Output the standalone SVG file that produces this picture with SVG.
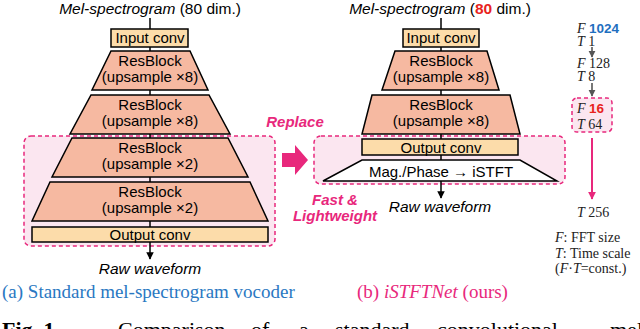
<svg xmlns="http://www.w3.org/2000/svg" width="640" height="329" viewBox="0 0 640 329">
<defs>
<style>
.sans{font-family:"Liberation Sans",Arial,sans-serif}
.serif{font-family:"Liberation Serif","Times New Roman",serif}
.lbl{font-family:"Liberation Sans",Arial,sans-serif;font-size:15px;fill:#000;text-anchor:middle}
.conv{fill:#fcdcaa;stroke:#000;stroke-width:1.5}
.res{fill:#f6b9a1;stroke:#000;stroke-width:1.5}
.mag{fill:#fff;stroke:#000;stroke-width:1.5}
.zone{fill:#fbe6f0;stroke:#e8287c;stroke-width:1.5;stroke-dasharray:4 3}
.wire{stroke:#000;stroke-width:1.5;fill:none}
.pinkb{font-family:"Liberation Sans",Arial,sans-serif;font-weight:bold;font-style:italic;font-size:15px;fill:#e8287c;text-anchor:middle}
.ft{font-family:"Liberation Serif","Times New Roman",serif;font-size:14px;fill:#222}
.cap{font-family:"Liberation Serif","Times New Roman",serif;font-size:22px;fill:#000}
</style>
<marker id="ah" viewBox="0 0 10 10" refX="9" refY="5" markerWidth="5" markerHeight="5" orient="auto" markerUnits="strokeWidth"><path d="M0,0 L10,5 L0,10 z" fill="#000"/></marker>
<marker id="ahg" viewBox="0 0 10 10" refX="9" refY="5" markerWidth="4.5" markerHeight="5" orient="auto" markerUnits="strokeWidth"><path d="M0,0 L10,5 L0,10 z" fill="#555"/></marker>
<marker id="ahp" viewBox="0 0 10 10" refX="9" refY="5" markerWidth="4" markerHeight="4" orient="auto" markerUnits="strokeWidth"><path d="M0,0 L10,5 L0,10 z" fill="#e8287c"/></marker>
</defs>

<!-- background zones -->
<g id="zone-left"><rect class="zone" x="24" y="136" width="251" height="110" rx="7"/></g>
<g id="zone-right"><rect class="zone" x="314" y="136" width="251" height="48" rx="7"/></g>
<g id="zone-f16"><rect class="zone" x="572" y="98" width="40" height="34" rx="5"/></g>

<!-- connectors -->
<g id="connectors">
<line class="wire" x1="150" y1="18" x2="150" y2="29"/>
<line class="wire" x1="150" y1="47" x2="150" y2="51"/>
<line class="wire" x1="150" y1="90" x2="150" y2="95"/>
<line class="wire" x1="150" y1="134" x2="150" y2="138"/>
<line class="wire" x1="150" y1="177" x2="150" y2="182"/>
<line class="wire" x1="150" y1="221" x2="150" y2="227"/>
<line class="wire" x1="150" y1="242" x2="150" y2="259" marker-end="url(#ah)"/>
<line class="wire" x1="441" y1="18" x2="441" y2="29"/>
<line class="wire" x1="441" y1="47" x2="441" y2="51"/>
<line class="wire" x1="441" y1="90" x2="441" y2="95"/>
<line class="wire" x1="441" y1="134" x2="441" y2="139"/>
<line class="wire" x1="441" y1="155" x2="441" y2="160"/>
<line class="wire" x1="441" y1="181" x2="441" y2="198" marker-end="url(#ah)"/>
<line x1="592" y1="47" x2="592" y2="57" stroke="#555" stroke-width="1.6" marker-end="url(#ahg)"/>
<line x1="592" y1="83" x2="592" y2="96" stroke="#555" stroke-width="1.6" marker-end="url(#ahg)"/>
<line x1="592" y1="138" x2="592" y2="199" stroke="#e8287c" stroke-width="2" marker-end="url(#ahp)"/>
<path id="replace-arrow" d="M282,153 L295,153 L295,145 L308,160 L295,175 L295,167 L282,167 z" fill="#e8287c"/>
</g>

<!-- left: standard vocoder -->
<g id="left-title"><text x="150" y="13.5" class="sans" font-size="15.5" text-anchor="middle"><tspan font-style="italic">Mel-spectrogram</tspan> (80 dim.)</text></g>
<g id="left-input"><rect class="conv" x="111" y="29" width="77" height="18"/><text class="lbl" x="150" y="43">Input conv</text></g>
<g id="left-rb1"><polygon class="res" points="111,51 190,51 208,90 92,90"/><text class="lbl" x="150" y="66">ResBlock</text><text class="lbl" x="150" y="81.5">(upsample ×8)</text></g>
<g id="left-rb2"><polygon class="res" points="91,95 209,95 230,134 70,134"/><text class="lbl" x="150" y="110">ResBlock</text><text class="lbl" x="150" y="125.5">(upsample ×8)</text></g>
<g id="left-rb3"><polygon class="res" points="72,138 228,138 248,177 52,177"/><text class="lbl" x="150" y="153">ResBlock</text><text class="lbl" x="150" y="168.5">(upsample ×2)</text></g>
<g id="left-rb4"><polygon class="res" points="50,182 250,182 268,221 32,221"/><text class="lbl" x="150" y="197">ResBlock</text><text class="lbl" x="150" y="212.5">(upsample ×2)</text></g>
<g id="left-output"><rect class="conv" x="32" y="227" width="236" height="15"/><text class="lbl" x="150" y="239.5">Output conv</text></g>
<g id="left-raw"><text class="sans" x="150" y="274" font-size="15.5" font-style="italic" text-anchor="middle">Raw waveform</text></g>
<g id="caption-a"><text class="serif" x="2" y="298" font-size="19" fill="#2a78c2">(a) Standard mel-spectrogram vocoder</text></g>

<!-- replace -->
<g id="replace-label"><text class="pinkb" x="295" y="127">Replace</text></g>
<g id="fast-label"><text class="pinkb" x="335" y="205">Fast &amp;</text><text class="pinkb" x="335" y="221">Lightweight</text></g>

<!-- right: iSTFTNet -->
<g id="right-title"><text x="440" y="13.5" class="sans" font-size="15.5" text-anchor="middle"><tspan font-style="italic">Mel-spectrogram</tspan> (<tspan font-weight="bold" fill="#e8231e">80</tspan> dim.)</text></g>
<g id="right-input"><rect class="conv" x="403" y="29" width="76" height="18"/><text class="lbl" x="441" y="43">Input conv</text></g>
<g id="right-rb1"><polygon class="res" points="395,51 487,51 499,90 382,90"/><text class="lbl" x="441" y="66">ResBlock</text><text class="lbl" x="441" y="81.5">(upsample ×8)</text></g>
<g id="right-rb2"><polygon class="res" points="372,95 510,95 520,134 362,134"/><text class="lbl" x="441" y="110">ResBlock</text><text class="lbl" x="441" y="125.5">(upsample ×8)</text></g>
<g id="right-output"><rect class="conv" x="362" y="139" width="156" height="16"/><text class="lbl" x="441" y="152.5">Output conv</text></g>
<g id="right-istft"><polygon class="mag" points="362,160 520,160 557,181 323,181"/><text class="lbl" x="441" y="177">Mag./Phase → iSTFT</text></g>
<g id="right-raw"><text class="sans" x="440" y="212" font-size="15.5" font-style="italic" text-anchor="middle">Raw waveform</text></g>
<g id="caption-b"><text class="serif" x="357" y="298" font-size="19" fill="#e8287c">(b) <tspan font-style="italic">iSTFTNet</tspan> (ours)</text></g>

<!-- right column: F / T scale -->
<g id="scale-1"><text class="ft" x="577" y="33"><tspan font-style="italic">F</tspan> <tspan class="sans" font-weight="bold" font-size="13.5" fill="#1f6fbf">1024</tspan></text><text class="ft" x="577" y="45.5"><tspan font-style="italic">T</tspan> 1</text></g>
<g id="scale-2"><text class="ft" x="577" y="68"><tspan font-style="italic">F</tspan> 128</text><text class="ft" x="577" y="80.5"><tspan font-style="italic">T</tspan> 8</text></g>
<g id="scale-3"><text class="ft" x="577" y="113"><tspan font-style="italic">F</tspan> <tspan class="sans" font-weight="bold" font-size="13.5" fill="#e8231e">16</tspan></text><text class="ft" x="577" y="128.5"><tspan font-style="italic">T</tspan> 64</text></g>
<g id="scale-4"><text class="ft" x="577" y="217"><tspan font-style="italic">T</tspan> 256</text></g>
<g id="legend"><text class="ft" x="555" y="242"><tspan font-style="italic">F</tspan>: FFT size</text><text class="ft" x="555" y="258"><tspan font-style="italic">T</tspan>: Time scale</text><text class="ft" x="555" y="273">(<tspan font-style="italic">F</tspan>·<tspan font-style="italic">T</tspan>=const.)</text></g>

<!-- figure caption, cut off at the bottom edge -->
<g id="fig-caption">
<text class="cap" x="2" y="337" font-weight="bold">Fig. 1.</text>
<text class="cap" x="118" y="337">Comparison</text>
<text class="cap" x="251" y="337">of</text>
<text class="cap" x="299" y="337">a</text>
<text class="cap" x="335" y="337">standard</text>
<text class="cap" x="437" y="337">convolutional</text>
<text class="cap" x="610" y="337">mel</text>
</g>
</svg>
